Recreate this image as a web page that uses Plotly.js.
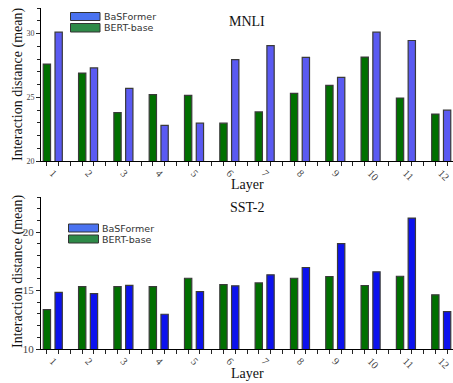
<!DOCTYPE html>
<html>
<head>
<meta charset="utf-8">
<script src="https://cdn.plot.ly/plotly-3.0.1.min.js"></script>
<style>html,body{margin:0;padding:0;background:#fff;}#chart{width:453px;height:383px;}</style>
</head>
<body>
<div id="chart"></div>
<script>
// ---- data ----
const layers = ['1','2','3','4','5','6','7','8','9','10','11','12'];
const mnliBert = [27.6, 26.9, 23.8, 25.2, 25.15, 22.97, 23.85, 25.3, 25.93, 28.15, 24.94, 23.68];
const mnliBas  = [30.1, 27.3, 25.7, 22.8, 22.97, 27.95, 29.05, 28.13, 26.56, 30.1, 29.45, 23.99];
const sstBert  = [13.37, 15.34, 15.34, 15.34, 16.05, 15.51, 15.65, 16.05, 16.2, 15.43, 16.22, 14.63];
const sstBas   = [14.85, 14.74, 15.45, 12.97, 14.91, 15.4, 16.34, 16.97, 19.02, 16.6, 21.2, 13.2];
const seriesNames = ['BaSFormer', 'BERT-base'];

// ---- layout helpers ----
const W = 453, H = 383, M = {l:41, r:0, t:8, b:34};
const PW = W - M.l - M.r, PH = H - M.t - M.b;
const px = x => (x - M.l) / PW;
const py = y => (H - M.b - y) / PH;

const green = '#007000';
const blueTop = '#5a5af2';
const blueBot = '#0c12ee';
const outline = {color:'#3a3a3a', width:1.2};

const slotOf = (i, k) => 3 * i + k;
const xGreen = layers.map((_, i) => slotOf(i, 0));
const xBlue  = layers.map((_, i) => slotOf(i, 1));
const xLab   = layers.map((_, i) => slotOf(i, 0.5));

const barW = 0.62;
const traces = [
  {type:'bar', x:xGreen, y:mnliBert, width:barW, marker:{color:green, line:outline}, xaxis:'x', yaxis:'y', name:seriesNames[1]},
  {type:'bar', x:xBlue,  y:mnliBas,  width:barW, marker:{color:blueTop, line:outline}, xaxis:'x', yaxis:'y', name:seriesNames[0]},
  {type:'bar', x:xGreen, y:sstBert,  width:barW, marker:{color:green, line:outline}, xaxis:'x2', yaxis:'y2', name:seriesNames[1]},
  {type:'bar', x:xBlue,  y:sstBas,   width:barW, marker:{color:blueBot, line:outline}, xaxis:'x2', yaxis:'y2', name:seriesNames[0]}
];

const serif = 'Liberation Serif';
const tickCol = '#444';

function xax(anchor){
  return {
    anchor: anchor, domain:[0,1], range:[-0.5, 34.5],
    tickmode:'array', tickvals:xLab, ticktext:layers, ticks:'', tickangle:45,
    tickfont:{family:serif, size:10.5, color:tickCol}, ticklabelstandoff:1,
    showline:true, linecolor:'#000', linewidth:1, showgrid:false, zeroline:false,
    minor:{tick0:0, dtick:1, ticks:'outside', ticklen:4, tickcolor:'#222', tickwidth:1, showgrid:false},
    fixedrange:true
  };
}
function yax(anchor, domain, range, fs){
  return {
    anchor: anchor, domain: domain, range: range, dtick:5, tick0:0,
    ticks:'outside', ticklen:4, tickcolor:'#222', tickwidth:1,
    tickfont:{family:serif, size:fs, color:tickCol},
    showline:true, linecolor:'#000', linewidth:1, showgrid:false, zeroline:false,
    minor:{dtick:1, ticks:'outside', ticklen:3, tickcolor:'#222', tickwidth:1, showgrid:false},
    fixedrange:true
  };
}

const legendFont = {family:'DejaVu Sans', size:9.5, color:'#333'};
function legendItems(x0, x1, yb, yg, tx){
  const sh = [
    {type:'rect', xref:'paper', yref:'paper', x0:px(x0), x1:px(x1), y0:py(yb[1]), y1:py(yb[0]), fillcolor:'#4a72f0', line:{color:'#333', width:1}},
    {type:'rect', xref:'paper', yref:'paper', x0:px(x0), x1:px(x1), y0:py(yg[1]), y1:py(yg[0]), fillcolor:'#2e8a48', line:{color:'#333', width:1}}
  ];
  const an = [
    {xref:'paper', yref:'paper', x:px(tx), y:py((yb[0]+yb[1])/2), text:seriesNames[0], showarrow:false, xanchor:'left', yanchor:'middle', font:legendFont},
    {xref:'paper', yref:'paper', x:px(tx), y:py((yg[0]+yg[1])/2), text:seriesNames[1], showarrow:false, xanchor:'left', yanchor:'middle', font:legendFont}
  ];
  return {sh, an};
}
const L1 = legendItems(70.5, 100, [12.5, 20.5], [23.5, 32], 102);
const L2 = legendItems(68.5, 98.5, [224, 232], [235, 243], 100);

const titleFont = {family:serif, size:14, color:'#111'};
const annotations = [
  {xref:'paper', yref:'paper', x:px(247), y:py(22), text:'MNLI', showarrow:false, font:titleFont, xanchor:'center', yanchor:'middle'},
  {xref:'paper', yref:'paper', x:px(247.5), y:py(208), text:'SST-2', showarrow:false, font:titleFont, xanchor:'center', yanchor:'middle'},
  {xref:'paper', yref:'paper', x:px(247), y:py(184), text:'Layer', showarrow:false, font:{family:serif, size:14, color:'#111'}, xanchor:'center', yanchor:'middle'},
  {xref:'paper', yref:'paper', x:px(247), y:py(373), text:'Layer', showarrow:false, font:{family:serif, size:14, color:'#111'}, xanchor:'center', yanchor:'middle'},
  {xref:'paper', yref:'paper', x:px(18), y:py(85), text:'Interaction distance (mean)', textangle:-90, showarrow:false, font:{family:serif, size:14, color:'#111'}, xanchor:'center', yanchor:'middle'},
  {xref:'paper', yref:'paper', x:px(18), y:py(272), text:'Interaction distance (mean)', textangle:-90, showarrow:false, font:{family:serif, size:14, color:'#111'}, xanchor:'center', yanchor:'middle'}
].concat(L1.an, L2.an);

const layout = {
  width:W, height:H, margin:M, paper_bgcolor:'#fff', plot_bgcolor:'#fff',
  showlegend:false, barmode:'overlay',
  xaxis: xax('y'),
  yaxis: yax('x', [py(161), py(8)], [20, 32], 8),
  xaxis2: xax('y2'),
  yaxis2: yax('x2', [py(349.3), py(197)], [10, 23], 11),
  shapes: L1.sh.concat(L2.sh),
  annotations: annotations
};

Plotly.newPlot('chart', traces, layout, {staticPlot:true, displayModeBar:false});
</script>
</body>
</html>
